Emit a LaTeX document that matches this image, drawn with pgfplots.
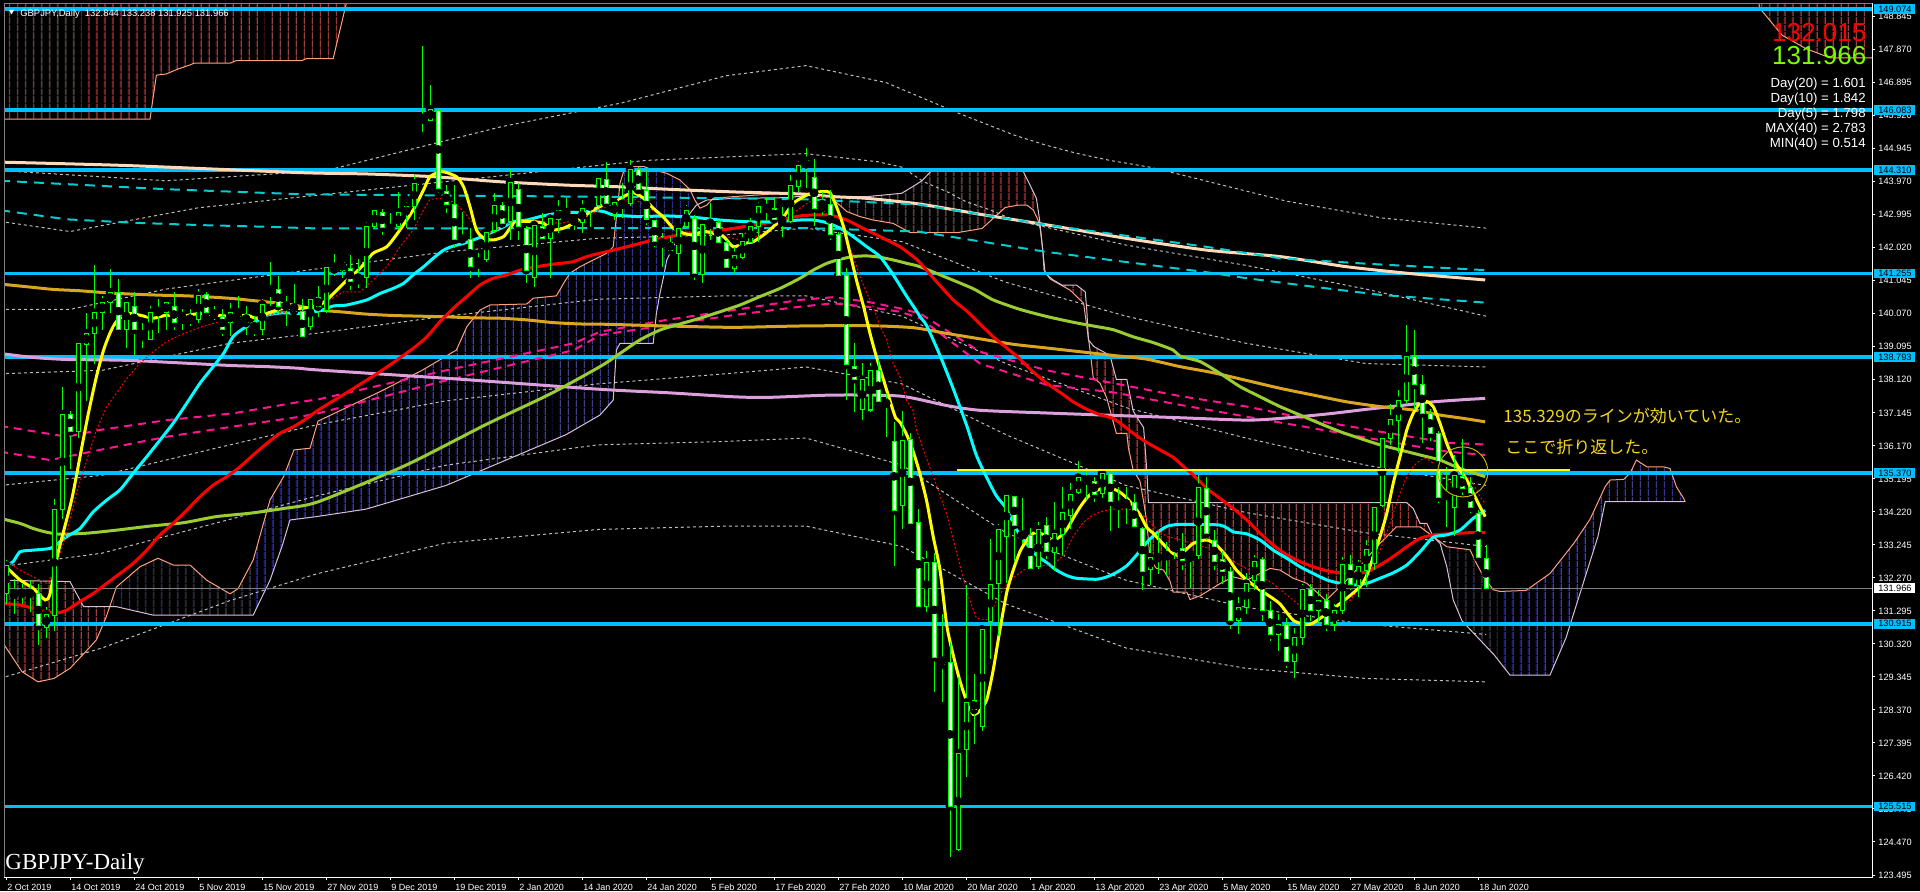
\documentclass[border=0pt]{standalone}
\usepackage{fontspec}
\setmainfont{Liberation Sans}
\newfontfamily\seriffont{Liberation Serif}
\newfontfamily\jpfont{Noto Sans CJK JP}
\usepackage{pgfplots}
\usepackage{pgfplotstable}
\pgfplotsset{compat=1.18}
\usetikzlibrary{patterns.meta}

\definecolor{hline}{RGB}{0,191,255}
\definecolor{candle}{RGB}{0,255,0}
\definecolor{maYellow}{RGB}{255,255,0}
\definecolor{maCyan}{RGB}{0,255,255}
\definecolor{maRed}{RGB}{255,0,0}
\definecolor{maGreen}{RGB}{154,205,50}
\definecolor{maGold}{RGB}{218,165,32}
\definecolor{maPlum}{RGB}{221,160,221}
\definecolor{maPeach}{RGB}{255,218,185}
\definecolor{maTurq}{RGB}{0,206,209}
\definecolor{maPink}{RGB}{255,20,147}
\definecolor{band}{RGB}{190,190,190}
\definecolor{spanA}{RGB}{255,160,122}
\definecolor{spanB}{RGB}{216,191,216}
\definecolor{hatchRed}{RGB}{165,45,45}
\definecolor{hatchBlue}{RGB}{35,35,150}
\definecolor{note}{RGB}{245,215,30}
\definecolor{ring}{RGB}{190,180,0}
\definecolor{lastgreen}{RGB}{124,252,0}

% daily candles: bar index, open, high, low, close
\pgfplotstableread{
i O H L C
0 131.81 132.80 131.50 132.65
1 131.85 132.25 131.20 131.78
2 131.80 132.10 131.50 131.83
3 131.80 132.20 131.25 131.82
4 131.80 132.10 130.28 130.85
5 130.80 131.40 130.50 131.20
6 131.15 134.60 130.70 134.30
7 134.30 137.90 134.00 137.10
8 137.10 137.20 135.50 136.60
9 136.60 139.30 136.40 139.20
10 139.15 140.10 137.50 139.50
11 139.50 141.50 138.60 140.10
12 140.10 140.60 139.60 140.40
13 140.40 141.40 140.10 140.70
14 140.70 141.10 139.50 139.60
15 139.60 140.50 139.07 140.40
16 140.30 140.70 138.85 139.60
17 139.50 139.80 139.05 139.40
18 139.30 140.30 139.30 140.10
19 140.10 140.50 139.50 140.15
20 140.10 140.50 139.60 140.40
21 140.30 140.70 139.60 139.80
22 139.80 140.20 139.60 140.00
23 139.95 140.20 139.70 139.90
24 139.90 140.80 139.80 140.60
25 140.65 140.70 140.00 140.10
26 140.10 140.30 139.90 140.05
27 140.00 140.20 139.40 139.60
28 139.80 140.40 139.40 140.10
29 140.20 140.60 139.90 140.00
30 140.05 140.30 139.45 139.80
31 139.80 140.00 139.40 139.60
32 139.60 140.50 139.45 140.35
33 140.60 141.60 140.30 140.80
34 140.80 141.20 140.10 140.30
35 140.30 140.60 139.70 140.30
36 140.35 140.95 140.10 140.15
37 140.15 140.50 139.30 139.40
38 139.70 140.60 139.60 140.50
39 140.55 140.90 139.99 140.28
40 140.18 141.50 140.08 141.44
41 141.53 141.85 141.20 141.38
42 141.36 141.68 141.12 141.59
43 141.41 141.80 140.77 141.02
44 141.00 141.70 140.82 141.14
45 141.15 142.79 140.82 142.64
46 142.64 143.23 142.60 143.11
47 143.07 143.16 142.40 142.62
48 142.60 143.04 142.50 142.60
49 142.64 143.68 142.55 143.06
50 142.99 143.38 142.60 143.23
51 143.23 144.17 142.84 143.92
52 145.89 147.98 145.45 145.81
53 145.79 146.83 145.79 146.11
54 146.07 146.13 143.63 143.78
55 143.68 143.87 143.06 143.31
56 143.30 143.86 142.00 142.25
57 142.30 143.09 142.15 142.27
58 142.25 142.60 141.12 141.46
59 141.46 141.86 141.17 141.61
60 141.66 142.60 141.61 142.48
61 142.52 143.65 142.45 143.27
62 143.27 143.38 142.64 142.74
63 142.79 144.35 142.25 143.95
64 143.75 143.92 142.25 142.64
65 142.60 142.65 140.97 141.36
66 141.15 142.72 140.87 142.69
67 142.64 143.04 142.20 142.30
68 142.28 142.99 141.12 142.88
69 142.86 143.43 142.45 143.13
70 143.10 143.48 142.99 143.05
71 142.85 142.95 142.55 142.80
72 142.77 143.43 142.45 143.18
73 143.18 143.38 142.64 143.31
74 143.28 144.14 143.23 144.07
75 144.04 144.54 143.28 143.33
76 142.99 143.43 142.84 143.35
77 143.33 143.92 142.89 143.30
78 143.33 144.61 143.24 144.34
79 144.34 144.42 143.68 143.73
80 143.70 144.32 142.69 142.87
81 142.82 142.84 142.05 142.20
82 142.20 142.45 141.46 142.15
83 142.17 142.35 141.90 141.95
84 141.86 142.70 141.27 142.60
85 142.66 143.28 142.60 143.13
86 142.88 142.99 141.07 141.27
87 141.24 142.74 140.97 142.71
88 142.67 143.33 142.25 142.76
89 142.77 142.84 142.10 142.18
90 142.18 142.25 141.41 141.44
91 141.41 142.05 141.27 141.78
92 141.74 142.47 141.68 142.20
93 142.17 142.89 142.15 142.66
94 142.64 143.38 142.20 143.23
95 143.20 143.53 142.80 143.18
96 143.19 143.53 142.84 142.86
97 142.89 143.23 142.33 142.79
98 142.79 144.17 142.74 143.87
99 143.84 144.59 143.68 144.44
100 144.39 144.96 143.78 144.59
101 144.10 144.63 142.65 143.19
102 143.09 143.68 142.99 143.31
103 143.30 143.73 142.25 142.42
104 142.42 142.50 141.17 141.20
105 141.20 141.41 137.52 138.56
106 138.51 139.20 137.18 138.14
107 137.25 138.61 136.93 138.12
108 137.23 138.61 137.18 138.41
109 138.41 138.71 137.38 137.48
110 137.45 137.72 136.44 137.42
111 136.29 136.87 132.61 134.25
112 134.41 137.20 133.70 136.33
113 136.35 136.55 133.80 133.87
114 133.92 134.30 131.30 131.43
115 131.43 133.05 131.25 132.72
116 132.72 133.00 128.90 129.93
117 129.93 131.21 128.59 129.71
118 129.77 130.37 124.03 125.53
119 124.25 129.33 124.20 127.09
120 127.20 132.07 126.38 128.59
121 128.64 129.44 127.37 128.37
122 127.89 130.86 127.75 130.75
123 130.97 133.43 129.88 132.07
124 132.12 133.87 130.54 133.70
125 133.49 134.71 132.12 134.69
126 134.67 134.70 132.77 133.83
127 133.55 134.63 133.27 133.53
128 133.51 133.73 132.50 132.56
129 132.61 133.92 132.52 133.70
130 133.81 134.08 132.83 133.05
131 133.03 134.52 132.48 133.57
132 133.54 134.96 132.94 134.19
133 134.12 135.07 133.70 134.74
134 134.80 135.72 134.74 135.23
135 135.18 135.43 134.58 135.15
136 135.13 135.26 134.52 134.74
137 134.77 135.50 134.63 135.36
138 135.34 135.40 133.65 134.52
139 134.43 134.96 133.73 134.41
140 134.49 134.96 133.87 134.45
141 134.49 134.74 133.76 133.79
142 133.73 133.76 131.90 132.45
143 132.52 133.38 132.06 132.88
144 132.90 133.65 132.39 132.86
145 132.90 133.32 132.34 132.94
146 133.07 133.32 132.83 133.27
147 133.13 133.59 132.50 132.77
148 132.77 133.05 131.96 132.96
149 132.94 135.30 132.83 134.93
150 134.91 135.26 133.40 133.57
151 133.39 133.68 132.50 132.75
152 132.82 133.05 132.10 132.45
153 132.45 132.60 130.75 131.00
154 131.00 131.70 130.60 131.40
155 131.40 132.40 131.20 132.10
156 132.20 132.95 131.90 132.75
157 132.80 132.90 131.00 131.30
158 131.30 131.60 130.40 130.60
159 130.60 131.20 130.10 130.90
160 130.90 131.10 129.60 129.80
161 129.80 130.80 129.30 130.50
162 130.50 132.10 130.30 131.93
163 131.93 132.10 131.00 131.30
164 131.30 131.90 130.90 131.60
165 131.60 131.80 130.70 130.90
166 130.90 131.50 130.70 131.30
167 131.30 132.90 131.20 132.68
168 132.68 132.95 131.90 132.09
169 132.06 132.80 131.70 132.62
170 132.50 133.40 132.00 133.11
171 132.70 134.50 132.50 134.35
172 134.42 136.50 134.35 136.39
173 136.39 137.40 136.20 136.95
174 136.91 137.82 135.95 137.50
175 137.50 139.74 137.43 138.82
176 138.82 139.59 137.23 137.97
177 137.99 138.26 136.25 137.13
178 137.13 137.25 136.30 136.54
179 136.54 136.60 134.47 134.65
180 134.72 135.55 133.78 134.69
181 134.35 135.90 133.50 135.30
182 135.26 136.36 134.72 134.92
183 134.94 135.26 134.18 134.35
184 134.16 134.28 132.80 132.88
185 132.844 133.238 131.925 131.966
}\ohlc

\pgfplotsset{
  ma/.style={line width=1.5pt, smooth, tension=0.4},
  dotband/.style={band, line width=0.5pt, dash pattern=on 1.5pt off 1.5pt},
  hatch/.style={draw=none, pattern={Lines[angle=90,distance=4pt,line width=0.5pt]}, pattern color=#1},
  lvl/.style={hline, line width=1.75pt},
}
\tikzset{
  lbl/.style={anchor=west, fill=#1, text=black, inner sep=0pt, xshift=1pt,
    minimum width=20.5pt, minimum height=4.8pt, font=\fontsize{4.6}{5}\selectfont},
}

\begin{document}
\begin{tikzpicture}
\path[use as bounding box] (0,0) rectangle (960pt,445.5pt);
\fill[black] (0,0) rectangle (960pt,445.5pt);

\begin{axis}[
  at={(2pt,443.5pt)}, anchor=north west,
  scale only axis, width=934pt, height=436.5pt,
  xmin=-0.25, xmax=233.25, ymin=123.436, ymax=149.22,
  clip mode=individual,
  axis line style={draw=white, line width=0.5pt},
  tick style={draw=white, line width=0.5pt},
  major tick length=1.5pt, tick align=outside,
  xtick pos=bottom, ytick pos=right, yticklabel pos=right,
  xtick={0,8,...,184},
  xticklabels={2 Oct 2019,14 Oct 2019,24 Oct 2019,5 Nov 2019,15 Nov 2019,27 Nov 2019,9 Dec 2019,19 Dec 2019,2 Jan 2020,14 Jan 2020,24 Jan 2020,5 Feb 2020,17 Feb 2020,27 Feb 2020,10 Mar 2020,20 Mar 2020,1 Apr 2020,13 Apr 2020,23 Apr 2020,5 May 2020,15 May 2020,27 May 2020,8 Jun 2020,18 Jun 2020},
  xticklabel style={anchor=north west, inner sep=0pt, xshift=0.5pt, yshift=-2pt, text=white, font=\fontsize{4.5}{5}\selectfont},
  ytick={148.845,147.870,146.895,145.920,144.945,143.970,142.995,142.020,141.045,140.070,139.095,138.120,137.145,136.170,135.195,134.220,133.245,132.270,131.295,130.320,129.345,128.370,127.395,126.420,125.445,124.470,123.495},
  yticklabels={148.845,147.870,146.895,145.920,144.945,143.970,142.995,142.020,141.045,140.070,139.095,138.120,137.145,136.170,135.195,134.220,133.245,132.270,131.295,130.320,129.345,128.370,127.395,126.420,125.445,124.470,123.495},
  yticklabel style={anchor=west, inner sep=0pt, xshift=1.5pt, text=white, font=\fontsize{4.6}{5}\selectfont},
]

% cloud hatching (span A against span B)
\addplot [hatch=hatchRed] coordinates {(-0.25,132.2) (8,132.16) (9.7,131.42) (13.2,131.42) (12.5,131.1) (11.3,130.44) (10,130.1) (8,129.6) (6,129.3) (4,129.2) (2,129.5) (-0.25,130.3)};
\addplot [hatch=hatchBlue] coordinates {(13.2,131.42) (13.8,132.0) (16.75,132.6) (19,132.85) (20.9,132.65) (23,132.65) (25.1,132.2) (28,131.8) (29,131.95) (30.9,132.8) (33,134.57) (34.7,135.26) (36,136.05) (38,136.1) (39,136.9) (47,137.8) (52,138.4) (56.3,139.0) (57.6,139.69) (59.25,140.18) (60.5,140.33) (65.1,140.36) (65.9,140.53) (68.8,140.6) (69.7,140.97) (70.5,141.27) (71.75,141.46) (73.4,141.66) (75.1,141.86) (75.9,142.05) (76.75,143.93) (77.2,144.27) (78.4,144.42) (79.7,144.42) (80.9,144.32) (82.6,144.22) (84.25,144.02) (85.5,143.73) (86.1,143.43) (86.3,143.28) (85.5,143.04) (84.7,142.64) (83.4,142.05) (82.6,141.66) (82.2,141.17) (81.75,140.68) (81.3,140.08) (80.9,139.2) (76.75,139.2) (76.3,139.0) (75.9,137.52) (74.25,137.08) (70,136.5) (65,136.0) (55,135.0) (45,134.3) (38.8,134.08) (35.5,133.98) (34.5,133.2) (33,132.2) (30.9,131.17) (18.4,131.17) (13.8,131.42)};
\addplot [hatch=hatchRed] coordinates {(103,143.53) (107.6,143.53) (111.96,143.63) (113.5,143.85) (114.5,144.0) (115.9,144.35) (127,144.35) (127.8,143.97) (128.8,143.48) (129.2,142.84) (129.5,142.15) (129.9,141.26) (130.9,141.07) (131.96,140.92) (133.8,140.92) (134.9,140.72) (135.1,140.18) (135.3,139.3) (136,139.1) (138,138.84) (138.8,138.13) (140.1,138.13) (140.9,137.2) (141.75,136.87) (142.2,136.71) (142.6,135.45) (142.8,134.49) (175.1,134.49) (175.9,134.32) (176.75,133.88) (177.6,133.88) (178.4,133.49) (179.2,133.3) (178.4,133.49) (176.75,133.78) (173.8,133.78) (171.75,133.29) (168,132.3) (165,131.6) (162.6,132.11) (160.9,132.26) (159.25,132.5) (158,132.55) (156.75,132.4) (155.1,132.2) (153.4,132.3) (151.75,132.1) (149.25,131.74) (148,131.63) (147.6,131.85) (145.9,131.85) (145.5,132.17) (144.7,132.5) (143.8,132.55) (143,132.83) (142.6,133.92) (142.2,134.52) (141.75,135.12) (140.9,135.45) (140.3,136.11) (140.1,136.54) (138.8,136.54) (138.4,136.87) (137.6,137.58) (136.75,138.02) (135.9,138.18) (135.5,139.0) (135.1,139.69) (134.7,140.38) (133,140.77) (130.5,141.1) (129.75,141.36) (129.6,141.95) (129.3,142.55) (129,142.84) (128.4,143.14) (127.6,143.28) (126.5,143.28) (124.9,143.21) (123.4,142.89) (122,142.59) (119,142.47) (113,142.47) (110.9,142.74) (108.4,142.84) (106.75,142.94) (105.1,143.09) (103,143.53)};
\addplot [hatch=hatchBlue] coordinates {(179.2,133.3) (180.1,133.19) (181.75,133.14) (183,133.1) (183.8,132.7) (184.7,132.3) (185.9,131.92) (186.75,131.87) (190,131.9) (193,132.4) (196,133.3) (198,134.0) (199.9,134.97) (200.5,135.16) (202.2,135.18) (203,135.36) (203.8,135.75) (205.1,135.55) (207.2,135.55) (208,135.5) (208.8,134.96) (209.7,134.62) (209.9,134.52) (199.9,134.52) (199,133.5) (197,132.0) (195,130.5) (193,129.4) (188,129.4) (186,130.0) (184,130.5) (182,131.0) (180.9,131.62) (180.5,132.11) (180.1,132.6)};

% ichimoku span lines
\addplot [spanA, line width=0.5pt] coordinates {
(-0.25,130.3) (2,129.5) (4,129.2) (6,129.3) (8,129.6) (10,130.1) (11.3,130.44) (12.5,131.1) (13.8,132.0) (16.75,132.6) (19,132.85) (20.9,132.65) (23,132.65) (25.1,132.2) (28,131.8) (29,131.95) (30.9,132.8) (33,134.57) (34.7,135.26) (36,136.05) (38,136.1) (39,136.9) (47,137.8) (52,138.4) (56.3,139.0) (57.6,139.69) (59.25,140.18) (60.5,140.33) (65.1,140.36) (65.9,140.53) (68.8,140.6) (69.7,140.97) (70.5,141.27) (71.75,141.46) (73.4,141.66) (75.1,141.86) (75.9,142.05) (76.75,143.93) (77.2,144.27) (78.4,144.42) (79.7,144.42) (80.9,144.32) (82.6,144.22) (84.25,144.02) (85.5,143.73) (86.1,143.43) (86.75,143.19) (87.6,143.28) (88.4,143.48) (90.9,143.53) (95.9,143.61) (100.9,143.63) (103,143.53) (105.1,143.09) (106.75,142.94) (108.4,142.84) (110.9,142.74) (113,142.47) (119,142.47) (122,142.59) (123.4,142.89) (124.9,143.21) (126.5,143.28) (127.6,143.28) (128.4,143.14) (129,142.84) (129.3,142.55) (129.6,141.95) (129.75,141.36) (130.5,141.1) (133,140.77) (134.7,140.38) (135.1,139.69) (135.5,139.0) (135.9,138.18) (136.75,138.02) (137.6,137.58) (138.4,136.87) (138.8,136.54) (140.1,136.54) (140.3,136.11) (140.9,135.45) (141.75,135.12) (142.2,134.52) (142.6,133.92) (143,132.83) (143.8,132.55) (144.7,132.5) (145.5,132.17) (145.9,131.85) (147.6,131.85) (148,131.63) (149.25,131.74) (151.75,132.1) (153.4,132.3) (155.1,132.2) (156.75,132.4) (158,132.55) (159.25,132.5) (160.9,132.26) (162.6,132.11) (165,131.6) (168,132.3) (171.75,133.29) (173.8,133.78) (176.75,133.78) (178.4,133.49) (180.1,133.19) (181.75,133.14) (183,133.1) (183.8,132.7) (184.7,132.3) (185.9,131.92) (186.75,131.87) (190,131.9) (193,132.4) (196,133.3) (198,134.0) (199.9,134.97) (200.5,135.16) (202.2,135.18) (203,135.36) (203.8,135.75) (205.1,135.55) (207.2,135.55) (208,135.5) (208.8,134.96) (209.7,134.62) (209.9,134.52)};
\addplot [spanB, line width=0.5pt] coordinates {
(-0.25,132.2) (8,132.16) (9.7,131.42) (13.8,131.42) (18.4,131.17) (30.9,131.17) (33,132.2) (34.5,133.2) (35.5,133.98) (38.8,134.08) (45,134.3) (55,135.0) (65,136.0) (70,136.5) (74.25,137.08) (75.9,137.52) (76.3,139.0) (76.75,139.2) (80.9,139.2) (81.3,140.08) (81.75,140.68) (82.2,141.17) (82.6,141.66) (83.4,142.05) (84.7,142.64) (85.5,143.04) (86.3,143.28) (87.6,143.43) (90.9,143.48) (97.6,143.5) (100.9,143.58) (103.4,143.53) (107.6,143.53) (111.96,143.63) (113.5,143.85) (114.5,144.0) (115.9,144.35) (127,144.35) (127.8,143.97) (128.8,143.48) (129.2,142.84) (129.5,142.15) (129.9,141.26) (130.9,141.07) (131.96,140.92) (133.8,140.92) (134.9,140.72) (135.1,140.18) (135.3,139.3) (136,139.1) (138,138.84) (138.8,138.13) (140.1,138.13) (140.9,137.2) (141.75,136.87) (142.2,136.71) (142.6,135.45) (142.8,134.49) (175.1,134.49) (175.9,134.32) (176.75,133.88) (177.6,133.88) (178.4,133.49) (179.25,133.29) (180.1,132.6) (180.5,132.11) (180.9,131.62) (182,131.0) (184,130.5) (186,130.0) (188,129.4) (193,129.4) (195,130.5) (197,132.0) (199,133.5) (199.9,134.52) (209.9,134.52)};

% upper cloud at the top of the window
\addplot [hatch=hatchRed] coordinates {(-0.25,149.6) (42.9,149.6) (40.9,147.61) (37.6,147.61) (37,147.55) (28.8,147.55) (28,147.47) (23.5,147.47) (23,147.42) (21.5,147.3) (20,147.15) (18.8,147.12) (18,145.82) (-0.25,145.82)};
\addplot [spanA, line width=0.5pt] coordinates {(-0.25,145.82) (18,145.82) (18.8,147.12) (20,147.15) (21.5,147.3) (23,147.42) (23.5,147.47) (28,147.47) (28.8,147.55) (37,147.55) (37.6,147.61) (40.9,147.61) (42.9,149.6)};
\addplot [hatch=hatchRed] coordinates {(218.9,149.6) (233.25,149.6) (233.25,147.63) (228,147.63) (225,147.9) (222,148.3) (219.2,149.1)};
\addplot [spanA, line width=0.5pt] coordinates {(218.9,149.6) (219.2,149.1) (222,148.3) (225,147.9) (228,147.63) (233.25,147.63)};

% envelope bands
\addplot [dotband] coordinates {(-0.75,144.3) (20,144.0) (40,144.3) (62,145.6) (77,146.3) (90,147.1) (100,147.4) (110,146.9) (119,146.0) (126,145.35) (130,145.05) (134,144.8) (138,144.6) (143,144.4) (147,144.17) (160,143.4) (172,142.9) (185,142.6)};
\addplot [dotband] coordinates {(-0.75,142.8) (8,142.5) (24,143.2) (40,143.6) (60,144.1) (80,144.6) (100,144.8) (109,144.56) (112,144.4) (114.7,143.97) (117.6,143.68) (120,143.38) (123,143.14) (126,142.84) (140,142.1) (155,141.5) (170,140.8) (185,140.0)};
\addplot [dotband] coordinates {(-0.75,140.2) (8,140.2) (20,140.8) (39,141.4) (55,141.9) (74,142.3) (90,142.4) (100,142.6) (112,142.2) (125,141.0) (140,140.0) (155,139.2) (170,138.6) (185,138.5)};
\addplot [dotband] coordinates {(-0.75,138.3) (12,138.4) (28,139.2) (39,139.5) (55,140.0) (74,140.5) (90,140.6) (100,140.6) (112,140.0) (125,138.6) (140,137.3) (155,136.4) (170,135.6) (185,135.0)};
\addplot [dotband] coordinates {(-0.75,135.0) (12,135.3) (28,136.2) (39,136.8) (55,137.5) (74,138.0) (90,138.3) (100,138.5) (112,138.0) (125,136.5) (140,135.0) (155,134.2) (170,133.6) (185,133.2)};
\addplot [dotband] coordinates {(-0.75,132.6) (12,133.0) (28,134.0) (39,134.7) (55,135.6) (74,136.2) (90,136.3) (100,136.4) (112,135.6) (125,133.6) (140,132.2) (155,131.4) (170,130.9) (185,130.6)};
\addplot [dotband] coordinates {(-0.75,129.3) (12,130.2) (28,131.6) (39,132.4) (55,133.3) (74,133.7) (90,133.8) (100,133.8) (112,133.2) (125,131.5) (140,130.2) (155,129.6) (170,129.3) (185,129.2)};

% horizontal levels
\addplot [lvl] coordinates {(-0.25,149.074) (233.25,149.074)};
\addplot [lvl] coordinates {(-0.25,146.083) (233.25,146.083)};
\addplot [lvl] coordinates {(-0.25,144.310) (233.25,144.310)};
\addplot [lvl] coordinates {(-0.25,141.255) (233.25,141.255)};
\addplot [lvl] coordinates {(-0.25,138.793) (233.25,138.793)};
\addplot [lvl] coordinates {(-0.25,135.370) (233.25,135.370)};
\addplot [lvl] coordinates {(-0.25,130.915) (233.25,130.915)};
\addplot [lvl] coordinates {(-0.25,125.515) (233.25,125.515)};
\addplot [gray, line width=0.5pt] coordinates {(-0.25,131.966) (233.25,131.966)};

% long averages
\addplot [maPeach, ma] coordinates {(-0.75,144.55) (15,144.45) (36.75,144.24) (45.1,144.2) (53.4,144.12) (61.75,143.97) (70.1,143.87) (76.75,143.82) (82.6,143.75) (90.9,143.67) (99.25,143.61) (103.4,143.53) (107.6,143.48) (114.25,143.31) (122,143.0) (130,142.7) (140,142.3) (150.1,141.95) (159.25,141.76) (167.6,141.46) (175.9,141.25) (184.9,141.07)};
\addplot [maTurq, line width=1pt, dash pattern=on 5pt off 3.5pt] coordinates {(-0.75,144.0) (20,143.75) (37,143.6) (77,143.52) (100,143.45) (114,143.3) (130,142.7) (150,142.05) (159.25,141.71) (170,141.55) (184.9,141.36)};
\addplot [maTurq, line width=1pt, dash pattern=on 5pt off 3.5pt] coordinates {(-0.75,143.13) (7.6,142.86) (15.9,142.76) (24.25,142.69) (32.6,142.64) (39,142.59) (75,142.6) (100,142.6) (114,142.5) (130,141.9) (150,141.3) (155.1,141.12) (163.4,140.87) (171.75,140.63) (184.9,140.4)};
\addplot [maPink, line width=1pt, dash pattern=on 4pt off 3pt] coordinates {(-0.75,136.76) (7.6,136.44) (11.75,136.64) (20.1,136.93) (28.4,137.13) (36.75,137.47) (39,137.54) (55,138.4) (71,139.2) (74.25,139.54) (82.6,139.89) (90.9,140.18) (99.25,140.48) (103.4,140.56) (107.6,140.43) (111.75,140.23) (114.25,140.08) (121.75,138.95) (130.1,138.4) (138.4,138.02) (146.75,137.64) (155.1,137.33) (163.4,136.93) (171.75,136.59) (180.1,136.26) (184.9,136.21)};
\addplot [maPink, line width=1pt, dash pattern=on 4pt off 3pt] coordinates {(-0.75,136.0) (5.5,135.75) (11.75,136.05) (20.1,136.44) (28.4,136.74) (36.75,137.03) (39,137.13) (55,138.1) (71,139.0) (74.25,139.44) (82.6,139.74) (90.9,140.03) (99.25,140.28) (103.4,140.38) (107.6,140.28) (111.75,140.13) (114.25,139.94) (121.75,138.6) (130.1,137.97) (138.4,137.75) (146.75,137.38) (155.1,137.03) (163.4,136.69) (171.75,136.34) (180.1,136.0) (184.9,135.9)};
\addplot [maPlum, ma] coordinates {(-0.75,138.9) (3.4,138.78) (7.6,138.72) (11.75,138.71) (15.9,138.69) (20.1,138.64) (24.25,138.59) (28.4,138.54) (32.6,138.51) (36.75,138.46) (39.05,138.41) (56,138.15) (74.25,137.84) (82.6,137.74) (90.9,137.62) (95.1,137.6) (103.4,137.67) (111.75,137.64) (117.6,137.36) (121.75,137.22) (130.1,137.14) (138.4,137.07) (146.75,137.0) (155.1,136.93) (159.25,136.98) (165.1,137.11) (170.1,137.25) (175.1,137.38) (178.4,137.47) (182.6,137.54) (184.9,137.57)};
\addplot [maGold, ma] coordinates {(-0.75,140.95) (3.4,140.85) (5.9,140.79) (9.25,140.75) (12.6,140.69) (15.9,140.65) (19.25,140.62) (22.6,140.6) (25.9,140.56) (28.4,140.52) (30.9,140.46) (33.4,140.4) (35.9,140.33) (39.25,140.18) (41.75,140.13) (45.1,140.06) (48.4,140.02) (51.75,140.0) (55.1,139.98) (58.4,139.95) (61.75,139.94) (65.1,139.89) (68.4,139.81) (71.75,139.77) (75.1,139.76) (82.6,139.71) (90.9,139.67) (99.25,139.71) (107.6,139.72) (113.4,139.66) (117.6,139.49) (121.75,139.33) (125.9,139.17) (130.1,139.06) (134.25,138.95) (138.4,138.84) (142.6,138.73) (146.75,138.51) (150.9,138.33) (155.1,138.1) (159.25,137.87) (163.4,137.67) (167.6,137.47) (171.75,137.33) (175.9,137.23) (179.25,137.08) (182.2,136.98) (184.9,136.88)};
\addplot [maGreen, ma] coordinates {(-0.75,134.03) (1.75,133.88) (3.4,133.73) (4.9,133.63) (6.75,133.56) (10.1,133.59) (13.8,133.68) (18,133.8) (22.2,133.9) (26.3,134.08) (30.5,134.18) (34.7,134.32) (39.05,134.52) (50,135.6) (60,136.8) (68,137.7) (74.25,138.51) (76.75,138.9) (79.25,139.3) (81.75,139.59) (84.25,139.77) (86.75,139.94) (89.25,140.13) (91.75,140.33) (94.25,140.58) (96.75,140.82) (99.25,141.12) (100.9,141.36) (102.6,141.56) (104.25,141.68) (105.9,141.76) (107.6,141.78) (109.25,141.74) (110.9,141.66) (112.6,141.56) (114.25,141.46) (118,141.1) (121,140.8) (123.4,140.48) (126.75,140.2) (130.1,139.99) (133.4,139.82) (135.9,139.71) (138.4,139.6) (140.9,139.39) (143.4,139.22) (145.9,139.0) (146.75,138.82) (149.25,138.66) (151.75,138.31) (154.25,137.92) (156.75,137.62) (159.25,137.33) (161.75,137.08) (164.25,136.83) (166.75,136.59) (169.25,136.39) (171.75,136.2) (174.25,136.05) (176.75,135.9) (179.25,135.75) (181.75,135.5) (184.9,135.26)};
\addplot [maRed, ma] coordinates {(-0.75,131.52) (1.75,131.47) (3.4,131.37) (5.1,131.27) (6.5,131.24) (7.6,131.32) (9.25,131.57) (10.9,131.81) (12.6,132.11) (14.25,132.4) (15.9,132.7) (17.6,133.09) (19.25,133.54) (20.9,133.88) (22.6,134.27) (24.25,134.67) (25.9,135.01) (27.6,135.26) (29.25,135.55) (30.9,135.9) (32.6,136.24) (34.25,136.54) (35.9,136.73) (37.6,136.98) (39.05,137.23) (43,137.8) (47,138.4) (50.9,139.05) (52.6,139.39) (54.25,139.84) (55.9,140.23) (57.6,140.58) (59.25,140.92) (60.9,141.12) (62.6,141.22) (64.25,141.36) (65.9,141.44) (67.6,141.51) (69.25,141.56) (70.9,141.61) (72.6,141.76) (74.25,141.86) (75.9,141.95) (77.6,142.05) (79.25,142.15) (80.9,142.25) (82.6,142.33) (84.25,142.4) (85.9,142.45) (87.6,142.5) (89.25,142.54) (90.9,142.59) (92.6,142.66) (94.25,142.72) (95.9,142.79) (97.6,142.89) (99.25,142.96) (100.9,142.99) (102.6,142.99) (103.8,142.94) (105.1,142.84) (106.75,142.64) (108.4,142.45) (110.1,142.25) (111.75,142.05) (113.4,141.76) (114.25,141.58) (116,141.1) (118.4,140.48) (120.1,140.15) (121.75,139.77) (123.4,139.39) (125.1,139.06) (126.75,138.73) (128.4,138.35) (130.1,138.02) (131.75,137.75) (133.4,137.47) (135.1,137.25) (136.75,137.09) (138.4,136.98) (139.7,136.76) (140.9,136.54) (142.6,136.27) (144.25,136.05) (145.9,135.83) (146.75,135.65) (148.4,135.31) (150.1,134.91) (151.75,134.62) (153.4,134.32) (155.1,133.98) (156.75,133.59) (158.4,133.24) (160.1,132.95) (161.75,132.75) (163.4,132.6) (165.1,132.48) (166.75,132.42) (168.4,132.4) (170.1,132.45) (171.75,132.65) (173.4,132.9) (175.1,133.19) (176.75,133.44) (178.4,133.54) (180.1,133.57) (181.75,133.59) (183.4,133.61) (184.9,133.61)};
\addplot [maCyan, ma] coordinates {(0,132.65) (0.9,132.75) (1.75,133.04) (3.4,133.09) (5.5,133.14) (6.5,133.29) (7.6,133.49) (9.25,133.73) (10.9,134.22) (12.6,134.57) (14.25,134.87) (15.9,135.36) (17.6,135.85) (19.25,136.34) (20.9,136.84) (22.6,137.43) (24.25,138.02) (25.9,138.51) (27.2,138.9) (28.4,139.4) (29.7,139.64) (30.9,139.79) (32.6,140.03) (34.7,140.1) (36.75,140.08) (39.25,140.16) (40.9,140.3) (42.6,140.33) (45.1,140.48) (46.75,140.67) (48.4,140.82) (49.7,140.97) (50.9,141.22) (52.2,141.46) (53.4,141.71) (54.7,141.95) (55.9,142.07) (57.2,142.15) (58.4,142.25) (59.7,142.37) (60.9,142.5) (62.2,142.64) (63.4,142.79) (65.1,142.84) (66.75,142.94) (68.4,143.02) (70.1,143.06) (72.2,143.07) (73.4,143.12) (74.7,143.09) (75.9,142.99) (77.6,142.96) (79.25,142.94) (82.6,142.96) (85.9,142.92) (89.25,142.84) (92.6,142.79) (95.9,142.79) (99.25,142.84) (100.9,142.84) (102.6,142.76) (104.25,142.6) (105.9,142.35) (107.6,142.05) (109.25,141.76) (110.9,141.22) (112.6,140.58) (113.4,140.3) (114.25,139.99) (115.1,139.71) (116.75,138.84) (118.4,137.86) (120.1,136.76) (121.3,135.89) (122.6,135.23) (123.8,134.69) (125.1,134.3) (126.3,133.7) (127.6,133.27) (128.8,132.94) (130.1,132.72) (131.3,132.5) (132.6,132.34) (133.8,132.26) (136.3,132.23) (137.6,132.3) (138.8,132.43) (140.1,132.63) (141.3,132.94) (142.6,133.32) (143.8,133.59) (145.1,133.79) (146.75,133.85) (151.75,133.83) (153.4,133.63) (155.1,133.57) (156.75,133.39) (158.4,133.09) (160.1,132.85) (161.75,132.6) (163.4,132.4) (165.1,132.21) (166.75,132.11) (168.4,132.06) (170.1,132.11) (171.75,132.26) (173.4,132.42) (175.1,132.65) (176.75,133.04) (178.4,133.47) (180.1,133.54) (181.75,133.68) (183.4,134.03) (184.9,134.26)};
\addplot [maRed, line width=0.5pt, dash pattern=on 1pt off 1pt] coordinates {(-0.3,132.85) (1.75,132.5) (3.4,132.3) (5.1,132.1) (5.9,132.4) (7.6,133.59) (8.8,134.77) (10.1,135.75) (11.3,136.64) (12.6,137.33) (13.8,137.72) (15.1,138.16) (16.75,138.61) (18.4,138.95) (20.1,139.25) (21.75,139.44) (24.25,139.67) (26.3,139.81) (28.4,139.89) (30.9,139.94) (32.6,140.03) (35.1,140.13) (36.75,140.18) (39,140.25) (40.1,140.43) (42.2,140.72) (44.25,140.72) (45.9,141.07) (47.6,141.46) (49.25,142.05) (50.9,142.55) (52.2,143.14) (53,143.45) (54.25,143.48) (55.9,143.38) (57.2,143.09) (58.4,142.74) (59.7,142.45) (60.9,142.5) (62.6,142.72) (64.25,142.79) (65.9,142.84) (67.6,142.79) (69.25,142.74) (70.9,142.81) (72.6,142.94) (74.25,143.14) (75.9,143.33) (78.4,143.48) (80.1,143.24) (81.75,142.99) (83.4,142.69) (85.1,142.5) (86.75,142.47) (88.4,142.4) (90.1,142.35) (91.75,142.25) (93.4,142.3) (95.1,142.5) (96.75,142.74) (98.4,143.04) (100.1,143.33) (101.75,143.53) (103.4,143.48) (104.25,143.04) (105.1,142.25) (105.9,141.76) (106.75,141.17) (107.6,140.68) (108.4,140.28) (109.25,139.7) (110.1,139.3) (110.9,138.6) (111.75,138.2) (112.6,137.5) (113.4,137.2) (113.8,136.65) (115.1,135.78) (116.3,135.01) (117.6,134.14) (118.8,133.05) (120.1,131.85) (121.3,131.08) (122.6,131.03) (123.4,131.41) (124.7,131.96) (125.9,132.28) (127.2,132.5) (128.4,132.61) (130.9,132.66) (132.2,132.94) (133.4,133.49) (134.7,133.92) (135.9,134.14) (137.2,134.25) (138.4,134.3) (140.1,134.3) (141.3,134.25) (142.6,134.03) (143.8,133.7) (145.1,133.49) (146.75,133.4) (151,133.1) (154.25,132.65) (158.4,132.1) (162,131.4) (165,131.3) (168,131.6) (170.5,132.4) (171.75,133.09) (172.6,133.59) (173.4,134.18) (174.25,134.77) (175.1,135.26) (175.9,135.56) (176.75,135.75) (177.6,135.8) (178.4,135.65) (179.25,135.46) (180.1,135.16) (180.9,135.06) (181.75,135.16) (182.6,135.26) (183.4,135.06) (184.25,134.67) (184.9,134.47)};
\addplot [maYellow, ma] coordinates {(0,132.6) (1.75,132.21) (3.4,131.96) (4.9,131.62) (5.5,131.8) (6.5,133.0) (8.2,134.57) (9.25,135.85) (10.3,137.13) (11.3,138.21) (12.2,139.0) (13,139.5) (13.8,139.84) (15.1,140.08) (16.75,140.03) (18.4,139.94) (20.1,140.03) (21.75,139.99) (24.25,140.08) (26.3,140.03) (28.4,139.99) (30.1,140.03) (31.3,139.94) (32.6,140.08) (34.7,140.23) (36.75,140.23) (38.8,140.3) (40.1,140.48) (42.2,140.97) (44.25,141.41) (45.9,141.86) (47.6,142.05) (49.25,142.55) (50.9,143.14) (52.2,143.73) (53,144.12) (54.5,144.27) (56.3,144.12) (57.2,143.82) (58,143.23) (58.8,142.55) (59.7,142.3) (60.9,142.25) (62.2,142.35) (63,142.6) (63.8,142.79) (65.9,142.79) (67.2,142.74) (68.4,142.55) (69.7,142.6) (70.9,142.74) (72.2,142.94) (73.4,143.14) (74.7,143.28) (75.9,143.33) (77.2,143.53) (78.4,143.65) (79.7,143.48) (80.9,143.19) (82.2,142.92) (83.4,142.6) (84.7,142.45) (85.9,142.4) (87.2,142.5) (88.4,142.45) (89.7,142.35) (90.9,142.05) (92.2,142.15) (93.4,142.2) (94.7,142.4) (95.9,142.64) (97.2,142.94) (98.4,143.33) (99.7,143.53) (100.9,143.65) (102.2,143.68) (103,143.65) (103.8,143.24) (104.7,142.64) (105.5,141.86) (106.3,141.07) (107.2,140.28) (108,139.49) (108.8,138.8) (109.7,138.11) (110.5,137.5) (111.2,137.0) (111.75,136.87) (112.6,136.49) (113.4,136.0) (114.25,135.34) (115.1,134.52) (115.9,133.49) (116.75,132.5) (117.6,130.86) (118.4,129.99) (119.25,129.22) (120.1,128.62) (120.9,128.24) (121.75,128.35) (122.6,128.68) (123.4,129.55) (124.25,130.75) (125.1,131.85) (125.9,132.5) (126.75,133.05) (127.6,133.38) (128.4,133.59) (129.25,133.59) (130.1,133.49) (130.9,133.38) (131.75,133.49) (132.6,133.7) (133.4,134.03) (134.25,134.36) (135.1,134.63) (135.9,134.8) (136.75,134.89) (137.6,134.93) (138.4,134.9) (139.25,134.8) (140.1,134.63) (140.9,134.41) (141.75,134.14) (142.6,133.76) (143.4,133.59) (144.25,133.37) (145.1,133.16) (145.9,132.99) (146.75,132.94) (148.4,133.29) (150.1,133.39) (151.3,133.24) (152.6,132.9) (153.8,132.5) (155.1,132.21) (156.75,131.91) (158,131.72) (159.25,131.5) (161,131.0) (163,130.9) (165,131.2) (167.6,131.67) (169.25,132.01) (170.1,132.35) (170.9,132.9) (171.75,133.49) (172.6,134.18) (173.4,135.06) (174.25,135.85) (175.1,136.64) (175.9,137.13) (176.75,137.43) (177.6,137.48) (178.4,137.33) (179.25,136.83) (180.1,136.24) (180.9,135.8) (181.75,135.46) (182.6,135.16) (183.4,134.77) (184.25,134.37) (184.9,134.08)};

% candles: wicks, outline, hollow up bodies, white down bodies
\addplot [only marks, mark=none, error bars/.cd, y dir=both, y explicit, error mark=none,
  error bar style={draw=candle, line width=0.5pt}]
  table [x=i, y=C, y error plus expr={\thisrow{H}-\thisrow{C}}, y error minus expr={\thisrow{C}-\thisrow{L}}] {\ohlc};
\addplot [only marks, mark=none, error bars/.cd, y dir=both, y explicit, error mark=none,
  error bar style={draw=candle, line width=2.5pt}]
  table [x=i, y expr={(\thisrow{O}+\thisrow{C})/2}, y error expr={abs(\thisrow{C}-\thisrow{O})/2+0.015}] {\ohlc};
\addplot [only marks, mark=none, restrict expr to domain={\thisrow{C}-\thisrow{O}}{0:100},
  error bars/.cd, y dir=both, y explicit, error mark=none,
  error bar style={draw=black, line width=1.5pt}]
  table [x=i, y expr={(\thisrow{O}+\thisrow{C})/2}, y error expr={max(abs(\thisrow{C}-\thisrow{O})/2-0.015,0)}] {\ohlc};
\addplot [only marks, mark=none, restrict expr to domain={\thisrow{C}-\thisrow{O}}{-100:-0.0001},
  error bars/.cd, y dir=both, y explicit, error mark=none,
  error bar style={draw=white, line width=1.5pt}]
  table [x=i, y expr={(\thisrow{O}+\thisrow{C})/2}, y error expr={max(abs(\thisrow{C}-\thisrow{O})/2-0.015,0)}] {\ohlc};

% drawn objects
\addplot [maYellow, line width=1pt] coordinates {(118.9,135.47) (195.5,135.47)};
\addplot [only marks, mark=o, mark size=12.5pt, mark options={draw=ring, line width=0.5pt}] coordinates {(182.1,135.40)};

\draw[gray, line width=0.5pt] (rel axis cs:0,0) -- (rel axis cs:0,1) -- (rel axis cs:1,1);

\node[lbl=hline] at (axis cs:233.25,149.074) {149.074};
\node[lbl=hline] at (axis cs:233.25,146.083) {146.083};
\node[lbl=hline] at (axis cs:233.25,144.310) {144.310};
\node[lbl=hline] at (axis cs:233.25,141.255) {141.255};
\node[lbl=hline] at (axis cs:233.25,138.793) {138.793};
\node[lbl=hline] at (axis cs:233.25,135.370) {135.370};
\node[lbl=white] at (axis cs:233.25,131.966) {131.966};
\node[lbl=hline] at (axis cs:233.25,130.915) {130.915};
\node[lbl=hline] at (axis cs:233.25,125.515) {125.515};
\end{axis}

% header and text blocks
\fill[white] (4.5pt,440.5pt) -- (7pt,440.5pt) -- (5.75pt,438.3pt) -- cycle;
\node[anchor=base west, inner sep=0pt, text=white, font=\fontsize{4.7}{5}\selectfont] at (10pt,437pt) {GBPJPY,Daily\ \ 132.844 133.238 131.925 131.966};
\node[anchor=base east, inner sep=0pt, text=red, font=\fontsize{13}{13}\selectfont] at (933.3pt,424.8pt) {132.015};
\node[anchor=base east, inner sep=0pt, text=lastgreen, font=\fontsize{13}{13}\selectfont] at (933.3pt,413.3pt) {131.966};
\begin{scope}[every node/.style={anchor=base east, inner sep=0pt, text=white, font=\fontsize{6.6}{7}\selectfont}]
\node at (933pt,401.85pt) {Day(20) = 1.601};
\node at (933pt,394.15pt) {Day(10) = 1.842};
\node at (933pt,386.65pt) {Day(5) = 1.798};
\node at (933pt,379.15pt) {MAX(40) = 2.783};
\node at (933pt,371.85pt) {MIN(40) = 0.514};
\end{scope}
\node[anchor=base west, inner sep=0pt, text=note, font=\jpfont\fontsize{8.5}{10}\selectfont] at (751.5pt,234.5pt) {135.329のラインが効いていた。};
\node[anchor=base west, inner sep=0pt, text=note, font=\jpfont\fontsize{8.5}{10}\selectfont] at (752.5pt,219pt) {ここで折り返した。};
\node[anchor=base west, inner sep=0pt, text=white, font=\seriffont\fontsize{11.5}{12}\selectfont] at (2.5pt,11pt) {GBPJPY-Daily};
\end{tikzpicture}
\end{document}
